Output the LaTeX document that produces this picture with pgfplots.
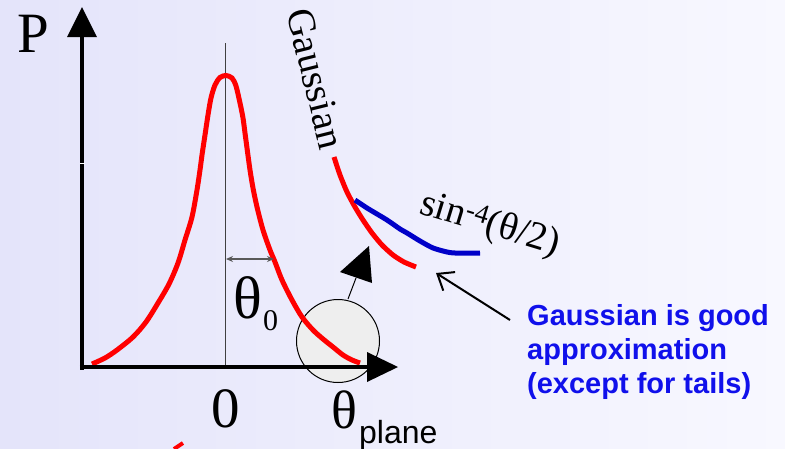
\documentclass[border=0pt]{standalone}
\usepackage{fontspec}
\setmainfont{Liberation Serif}
\newfontfamily\arial{Liberation Sans}
\usepackage{pgfplots}
\pgfplotsset{compat=1.18}
\usetikzlibrary{arrows.meta}
\definecolor{bgL}{RGB}{228,228,250}
\definecolor{bgR}{RGB}{248,248,255}
\definecolor{myred}{RGB}{255,0,0}
\definecolor{myblue}{RGB}{0,0,200}
\definecolor{txtblue}{RGB}{16,16,235}
\definecolor{circfill}{RGB}{238,238,238}
\begin{document}
\begin{tikzpicture}
\begin{axis}[width=785pt,height=448pt,scale only axis,hide axis,
  xmin=0,xmax=785,ymin=0,ymax=448,y dir=reverse,clip=false]
\coordinate (LL) at (axis cs:0,448);
\coordinate (UR) at (axis cs:785,0);
\fill[left color=bgL,right color=bgR] (axis cs:0,0) rectangle (axis cs:785,448);
% vertical centre line
\draw[black!75,line width=1pt] (axis cs:225,43) -- (axis cs:225,367);
% circle
\draw[fill=circfill,line width=1pt] (axis cs:338,341) circle [radius=41.5pt];
% Gaussian
\addplot[myred,line width=5pt,smooth,tension=0.5,mark=none] coordinates {
(92,364)(105,358)(117,350)(133,337)(146,322)(158,303)(169,284)(178,263)(185,240)(192,217)(197,190)(200,170)(202,155)(205,135)(208,115)(211,98)(215,85)(220,77.5)(226,75.5)(232,78)(236,86)(240,103)(243,118)(245,133)(247,148)(250,170)(253,188)(257,207)(263,230)(270,250)(275,262)(282,280)(292,300)(302,317)(313,330)(323,339)(333,347)(343,355)(352,360)(360,363)};
% Gaussian tail
\addplot[myred,line width=5pt,smooth,tension=0.4,mark=none] coordinates {
(334,157)(340,175)(347,192)(355,207)(363,220)(372,233)(382,245)(393,255)(404,262)(416,267)};
% sin^-4 tail
\addplot[myblue,line width=5pt,smooth,tension=0.4,mark=none] coordinates {
(355,200)(367,208)(387,220)(400,229)(407,233)(420,241)(433,248)(447,252)(455,253)(480,253)};
% small red fragment at the bottom
\addplot[myred,line width=4pt,mark=none] coordinates {(174,449)(183,443)};
% axes
\draw[line width=4.5pt] (axis cs:82,369.5) -- (axis cs:82,34);
\fill (axis cs:67,37) -- (axis cs:97,37) -- (axis cs:82,7) -- cycle;
\draw[white,line width=1pt] (axis cs:79.5,163) -- (axis cs:84.5,163);
\draw[line width=4.5pt] (axis cs:79.8,367) -- (axis cs:370,367);
\fill (axis cs:367,352) -- (axis cs:367,382) -- (axis cs:398,367) -- cycle;
% theta0 arrow
\draw[{Stealth[length=7pt,width=6pt]}-{Stealth[length=7pt,width=6pt]},line width=1.3pt,black!65] (axis cs:226,259) -- (axis cs:274,259);
% small arrow from circle
\draw[line width=1pt] (axis cs:348,299) -- (axis cs:356,278);
\fill (axis cs:340,272) -- (axis cs:369,246) -- (axis cs:372,283) -- cycle;
% pointer arrow
\draw[line width=2pt,-{Straight Barb[length=14pt,width=22pt]}] (axis cs:510,320) -- (axis cs:436,273);
% texts
\node[anchor=base west,inner sep=0pt,font=\fontsize{57}{64}\selectfont] at (axis cs:17,52) {P};
\node[anchor=base,inner sep=0pt,font=\fontsize{57}{64}\selectfont] at (axis cs:226,427) {0};
\node[anchor=base west,inner sep=0pt,font=\fontsize{60}{66}\selectfont] at (axis cs:233,318) {θ};
\node[anchor=base west,inner sep=0pt,font=\fontsize{30}{34}\selectfont] at (axis cs:263,330) {0};
\node[anchor=base west,inner sep=0pt,font=\fontsize{54}{60}\selectfont] at (axis cs:331,428) {θ};
\node[anchor=base west,inner sep=0pt,font=\arial\fontsize{32}{36}\selectfont] at (axis cs:359,443) {plane};
\node[anchor=base west,inner sep=0pt,rotate=-76,font=\fontsize{39}{44}\selectfont] at (axis cs:286,12) {Gaussian};
\node[anchor=base west,inner sep=0pt,rotate=-17,font=\fontsize{39}{44}\selectfont] at (axis cs:418,213) {sin\textsuperscript{-4}(θ/2)};
\node[anchor=base west,inner sep=0pt,font=\arial\bfseries\fontsize{29}{33}\selectfont,text=txtblue] at (axis cs:527,325) {Gaussian is good};
\node[anchor=base west,inner sep=0pt,font=\arial\bfseries\fontsize{29}{33}\selectfont,text=txtblue] at (axis cs:527,359) {approximation};
\node[anchor=base west,inner sep=0pt,font=\arial\bfseries\fontsize{29}{33}\selectfont,text=txtblue] at (axis cs:527,393) {(except for tails)};
\end{axis}
\pgfresetboundingbox
\useasboundingbox (LL) rectangle (UR);
\end{tikzpicture}
\end{document}
